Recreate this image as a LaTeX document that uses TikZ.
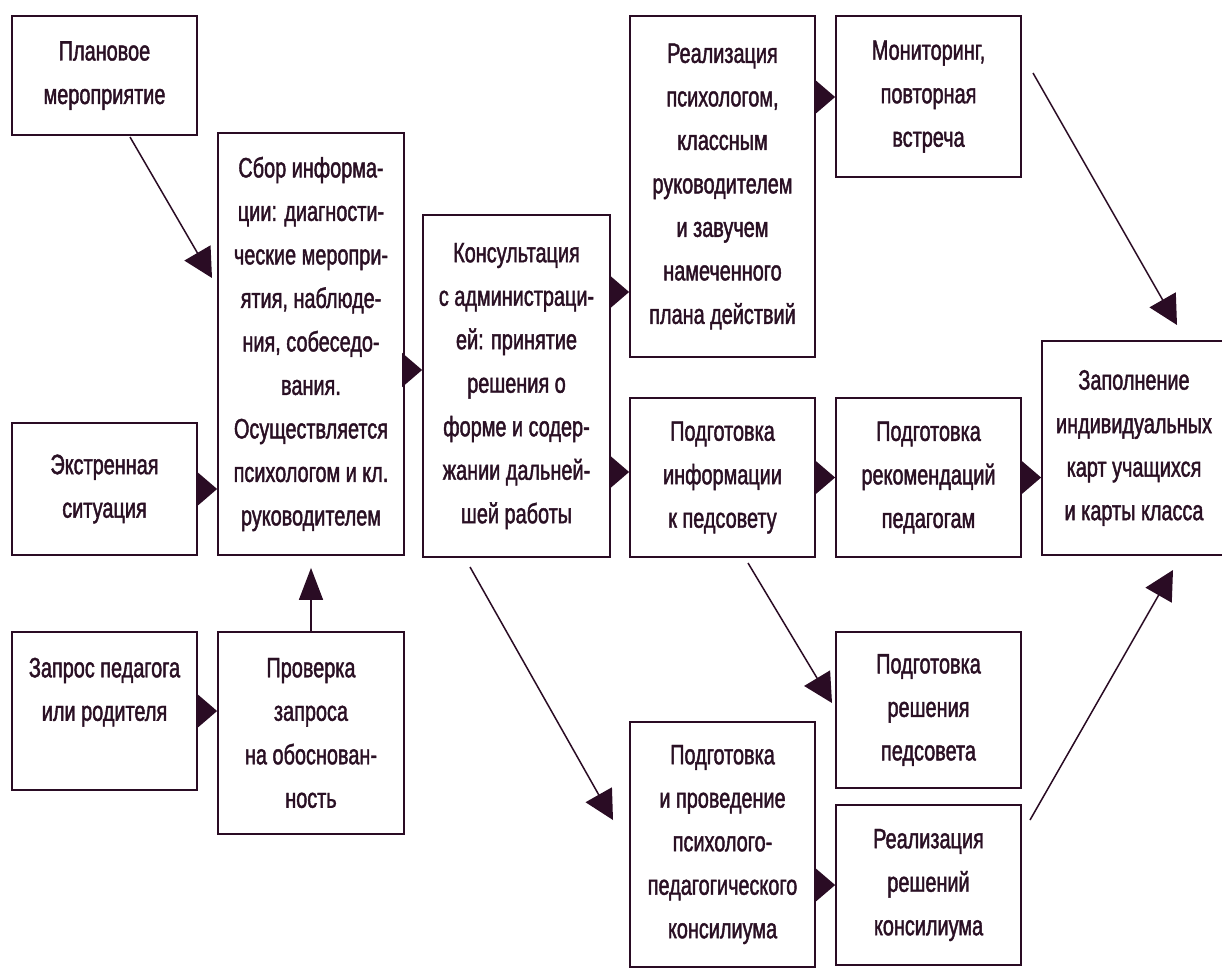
\documentclass[tikz,border=0pt]{standalone}
\usepackage{fontspec}
\setmainfont{Liberation Sans}[FakeStretch=0.71, FakeBold=1.5]
\usetikzlibrary{arrows.meta}
\definecolor{lc}{HTML}{2A0C24}
\definecolor{tc}{HTML}{2A1024}
\tikzset{
  box/.style={draw=lc, line width=1.8pt, inner sep=0pt, align=center, text=tc,
    font=\fontsize{28}{43.5}\selectfont},
  harr/.style={draw=lc, line width=1.5pt, -{Triangle[length=20pt,width=34pt]}},
  varr/.style={draw=lc, line width=1.5pt, -{Triangle[length=32pt,width=24pt]}},
  darr/.style={draw=lc, line width=1.5pt, -{Triangle[length=29pt,width=30pt]}},
}
\begin{document}
\begin{tikzpicture}[x=1pt,y=-1pt]
\useasboundingbox (0,0) rectangle (1222,970);
\fill[white] (0,0) rectangle (1222,970);
\clip (0,0) rectangle (1222,970);

\node[box, minimum width=185pt, minimum height=119pt] (A) at (104.5,75.5) {Плановое\\мероприятие};
\node[box, minimum width=186pt, minimum height=422pt] (B) at (311,344) {Сбор информа-\\ции: диагности-\\ческие меропри-\\ятия, наблюде-\\ния, собеседо-\\вания.\\Осуществляется\\психологом и кл.\\руководителем};
\node[box, minimum width=185pt, minimum height=132pt] (C) at (104.5,489) {Экстренная\\ситуация};
\node[box, minimum width=185pt, minimum height=158pt] (D) at (104.5,711) {Запрос педагога\\или родителя\\\mbox{}};
\node[box, minimum width=186pt, minimum height=202pt] (E) at (311,733) {Проверка\\запроса\\на обоснован-\\ность};
\node[box, minimum width=187pt, minimum height=342pt] (F) at (516.5,386) {Консультация\\с администраци-\\ей: принятие\\решения о\\форме и содер-\\жании дальней-\\шей работы};
\node[box, minimum width=185pt, minimum height=341pt] (G) at (722.5,186.5) {Реализация\\психологом,\\классным\\руководителем\\и завучем\\намеченного\\плана действий};
\node[box, minimum width=185pt, minimum height=161pt] (H) at (928.5,96.5) {Мониторинг,\\повторная\\встреча};
\node[box, minimum width=185pt, minimum height=159pt] (I) at (722.5,477.5) {Подготовка\\информации\\к педсовету};
\node[box, minimum width=185pt, minimum height=159pt] (J) at (928.5,477.5) {Подготовка\\рекомендаций\\педагогам};
\node[box, minimum width=184pt, minimum height=214pt] (K) at (1134,448) {Заполнение\\индивидуальных\\карт учащихся\\и карты класса};
\node[box, minimum width=185pt, minimum height=156pt] (L) at (928.5,710) {Подготовка\\решения\\педсовета};
\node[box, minimum width=185pt, minimum height=160pt] (M) at (928.5,885) {Реализация\\решений\\консилиума};
\node[box, minimum width=185pt, minimum height=245pt] (N) at (722.5,844.5) {Подготовка\\и проведение\\психолого-\\педагогического\\консилиума};

% horizontal connectors
\coordinate (bf) at ([yshift=-26pt]B.east);
\draw[harr] (bf) -- (bf -| F.west);
\draw[harr] (C.east) -- (C.east -| B.west);
\draw[harr] (D.east) -- (D.east -| E.west);
\coordinate (fg) at ([yshift=94pt]F.east);
\draw[harr] (fg) -- (fg -| G.west);
\coordinate (gh) at ([yshift=89.5pt]G.east);
\draw[harr] (gh) -- (gh -| H.west);
\coordinate (fi) at ([yshift=-86pt]F.east);
\draw[harr] (fi) -- (fi -| I.west);
\draw[harr] (I.east) -- (I.east -| J.west);
\draw[harr] (J.east) -- (J.east -| K.west);
\draw[harr] (N.east |- M.west) -- (M.west);

% vertical connector
\draw[varr] (E.north) -- ([yshift=-12pt]B.south);

% diagonal connectors
\coordinate (a1) at (130,137);  \coordinate (a2) at (212,278);
\coordinate (h1) at (1033,73);  \coordinate (h2) at (1177,325);
\coordinate (f1) at (470,567);  \coordinate (f2) at (613,820);
\coordinate (i1) at (748,563);  \coordinate (i2) at (832,703);
\coordinate (m1) at (1030,820); \coordinate (m2) at (1173,570);
\draw[darr] (a1) -- (a2);
\draw[darr] (h1) -- (h2);
\draw[darr] (f1) -- (f2);
\draw[darr] (i1) -- (i2);
\draw[darr] (m1) -- (m2);
\end{tikzpicture}
\end{document}
